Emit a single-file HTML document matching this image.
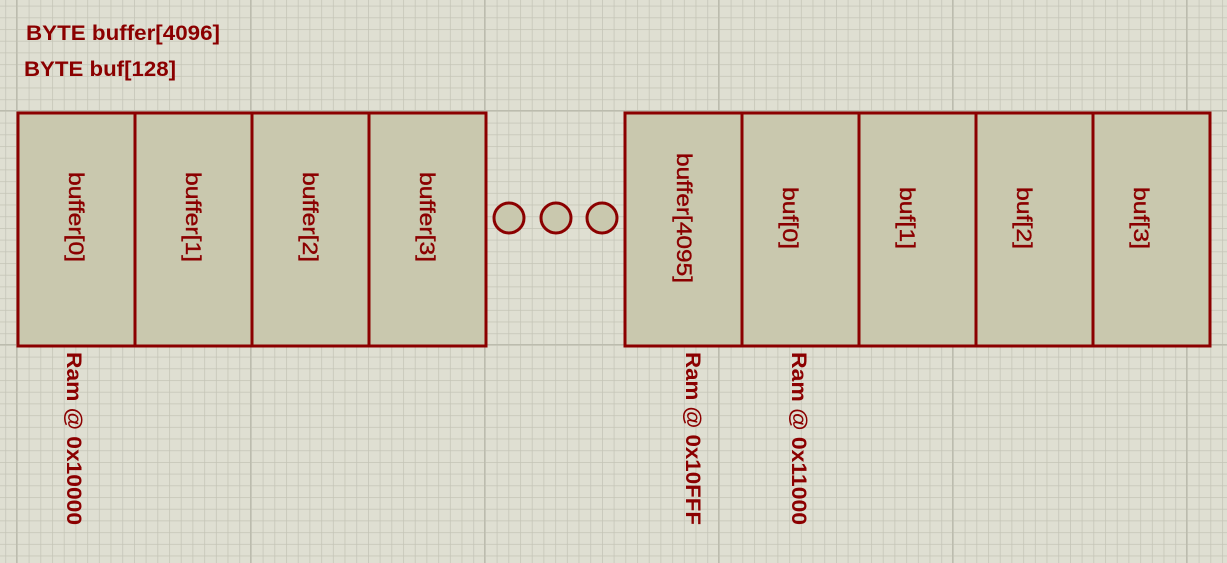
<!DOCTYPE html>
<html><head><style>body{margin:0;background:#dfdfd2}svg{display:block}</style></head><body>
<svg width="1227" height="563" xmlns="http://www.w3.org/2000/svg" font-family="Liberation Sans, sans-serif">
<defs>
<pattern id="g" x="17" y="111" width="11.7" height="11.7" patternUnits="userSpaceOnUse">
<path d="M0 0H11.7M0 0V11.7" stroke="#c4c4b6" stroke-width="1.5" fill="none"/>
</pattern>
<pattern id="G" x="16" y="110" width="234" height="234" patternUnits="userSpaceOnUse">
<path d="M0 0H234M0 0V234" stroke="#bcbcae" stroke-width="2.5" fill="none"/>
</pattern>
</defs>
<rect width="1227" height="563" fill="#dfdfd2"/>
<rect width="1227" height="563" fill="url(#g)"/>
<rect width="1227" height="563" fill="url(#G)"/>
<g fill="#8b0000" font-weight="bold" font-size="21">
<text x="26" y="40" textLength="194" lengthAdjust="spacingAndGlyphs">BYTE buffer[4096]</text>
<text x="24" y="76" textLength="152" lengthAdjust="spacingAndGlyphs">BYTE buf[128]</text>
</g>
<g fill="#c9c8ae" stroke="#8b0000" stroke-width="3">
<rect x="18" y="113" width="117" height="233"/>
<rect x="135" y="113" width="117" height="233"/>
<rect x="252" y="113" width="117" height="233"/>
<rect x="369" y="113" width="117" height="233"/>
<rect x="625" y="113" width="117" height="233"/>
<rect x="742" y="113" width="117" height="233"/>
<rect x="859" y="113" width="117" height="233"/>
<rect x="976" y="113" width="117" height="233"/>
<rect x="1093" y="113" width="117" height="233"/>
<circle cx="509" cy="218" r="15"/>
<circle cx="556" cy="218" r="15"/>
<circle cx="602" cy="218" r="15"/>
</g>
<g fill="#8b0000" stroke="#8b0000" stroke-width="0.4" font-size="21" text-anchor="middle" lengthAdjust="spacingAndGlyphs">
<text transform="translate(69,217) rotate(90)" textLength="90" lengthAdjust="spacingAndGlyphs">buffer[0]</text>
<text transform="translate(186,217) rotate(90)" textLength="90" lengthAdjust="spacingAndGlyphs">buffer[1]</text>
<text transform="translate(303,217) rotate(90)" textLength="90" lengthAdjust="spacingAndGlyphs">buffer[2]</text>
<text transform="translate(420,217) rotate(90)" textLength="90" lengthAdjust="spacingAndGlyphs">buffer[3]</text>
<text transform="translate(677,218) rotate(90)" textLength="130" lengthAdjust="spacingAndGlyphs">buffer[4095]</text>
<text transform="translate(783,218) rotate(90)" textLength="62" lengthAdjust="spacingAndGlyphs">buf[0]</text>
<text transform="translate(900,218) rotate(90)" textLength="62" lengthAdjust="spacingAndGlyphs">buf[1]</text>
<text transform="translate(1017,218) rotate(90)" textLength="62" lengthAdjust="spacingAndGlyphs">buf[2]</text>
<text transform="translate(1134,218) rotate(90)" textLength="62" lengthAdjust="spacingAndGlyphs">buf[3]</text>
</g>
<g fill="#8b0000" font-size="21" font-weight="bold">
<text transform="translate(67,352) rotate(90)" textLength="173" lengthAdjust="spacingAndGlyphs">Ram @ 0x10000</text>
<text transform="translate(686,352) rotate(90)" textLength="173" lengthAdjust="spacingAndGlyphs">Ram @ 0x10FFF</text>
<text transform="translate(792,352) rotate(90)" textLength="173" lengthAdjust="spacingAndGlyphs">Ram @ 0x11000</text>
</g>
</svg>
</body></html>
